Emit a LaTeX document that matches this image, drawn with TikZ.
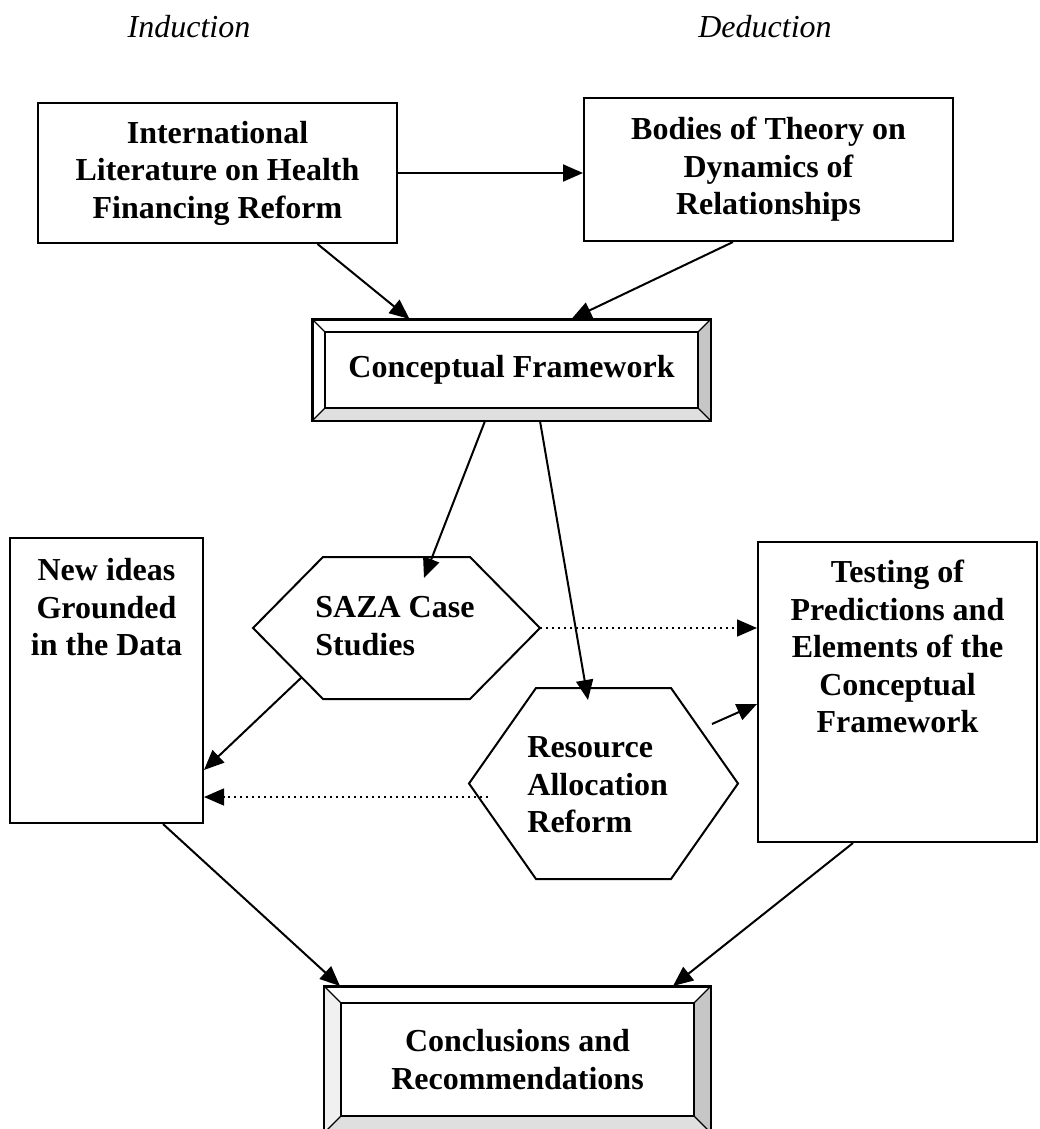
\documentclass[tikz,border=0pt]{standalone}
\usepackage{fontspec}
\setmainfont{Liberation Serif}
\usetikzlibrary{arrows.meta,positioning}

\newcommand\diagfont{\fontsize{16}{18.75}\selectfont}

\begin{document}
\begin{tikzpicture}[x=0.5pt, y=-0.5pt,
    plainbox/.style={draw, line width=1pt, align=center, inner sep=2pt, font=\bfseries\diagfont},
    boxtext/.style={align=center, inner sep=0pt, font=\bfseries\diagfont},
    hextext/.style={align=left, inner sep=0pt, font=\bfseries\diagfont},
    hexline/.style={line width=1pt, line join=miter},
    arr/.style={-{Triangle[length=10pt,width=8.5pt]}, line width=1pt},
    dotarr/.style={arr, dotted, line width=0.8pt},
    heading/.style={anchor=base, font=\itshape\diagfont}]
    \useasboundingbox (0,0) rectangle (1039,1129);

    % Headings
    \node[heading] (ind) at (189,38) {Induction};
    \node[heading] (ded) at (765,38) {Deduction};

    % Top boxes
    \node[plainbox, minimum width=179.5pt, minimum height=70pt] (lit) at (217.5,173)
        {International\\Literature on Health\\Financing Reform};
    \node[plainbox, minimum width=184.5pt, minimum height=71.5pt] (bodies) at (768.5,169.5)
        {Bodies of Theory on\\Dynamics of\\Relationships};

    % Bevelled boxes
    \node[plainbox, minimum width=198.5pt, minimum height=50pt] (cf) at (511.5,370)
        {Conceptual Framework};
    \node[plainbox, minimum width=192.5pt, minimum height=72.5pt] (concl) at (517.5,1059.5)
        {Conclusions and\\Recommendations};
    \fill[gray!12] (concl.north west) -- ++(8.5pt,-8.5pt) -- ([shift={(8.5pt,8.5pt)}]concl.south west) -- (concl.south west) -- cycle;
    \foreach \n/\b in {cf/6.5pt, concl/8.5pt} {
        \fill[gray!45] (\n.north east) -- ([shift={(-\b,-\b)}]\n.north east)
            -- ([shift={(-\b,\b)}]\n.south east) -- (\n.south east) -- cycle;
        \fill[gray!25] (\n.south west) -- ([shift={(\b,\b)}]\n.south west)
            -- ([shift={(-\b,\b)}]\n.south east) -- (\n.south east) -- cycle;
        \draw[line width=0.6pt] (\n.north west) -- ++(\b,-\b) (\n.north east) -- ++(-\b,-\b)
            (\n.south west) -- ++(\b,\b) (\n.south east) -- ++(-\b,\b);
        \draw[line width=1pt] ([shift={(\b,-\b)}]\n.north west) rectangle ([shift={(-\b,\b)}]\n.south east);
        \draw[line width=1pt] (\n.north west) rectangle (\n.south east);
    }

    % Side boxes
    \node[plainbox, minimum width=96.5pt, minimum height=142.5pt] (nid) at (106.5,680.5) {};
    \node[boxtext, below=10.5pt of nid.north] (nidtext) {New ideas\\Grounded\\in the Data};
    \node[plainbox, minimum width=139.5pt, minimum height=150pt] (test) at (897.5,692) {};
    \node[boxtext, below=9.5pt of test.north] (testtext)
        {Testing of\\Predictions and\\Elements of the\\Conceptual\\Framework};

    % Hexagons
    \coordinate (saza) at (396.5,628);
    \draw[hexline] (253,628) -- (323,557) -- (470,557) -- (540,628) coordinate (sazaE)
        -- (470,699) -- (323,699) -- cycle;
    \node[hextext, anchor=west] (sazatext) at (315,626) {SAZA Case\\Studies};
    \coordinate (rar) at (603.5,783.5);
    \draw[hexline] (469,783.5) -- (536,688) -- (671,688) -- (738,783.5)
        -- (671,879) -- (536,879) -- cycle;
    \node[hextext, anchor=west] (rartext) at (527,785) {Resource\\Allocation\\Reform};

    % Arrows
    \draw[arr] (lit.east) -- (lit.east -| bodies.west);
    \draw[arr] ([xshift=50pt]lit.south) -- ([xshift=-51pt]cf.north);
    \draw[arr] ([xshift=-17.75pt]bodies.south) -- ([xshift=30pt]cf.north);
    \draw[arr] ([xshift=-13.25pt]cf.south) -- ([shift={(13.75pt,25pt)}]saza);
    \draw[arr] ([xshift=14.25pt]cf.south) -- ([shift={(-7.75pt,41.75pt)}]rar);
    \draw[dotarr] (sazaE) -- (sazaE -| test.west);
    \draw[arr] ([shift={(54.25pt,29.75pt)}]rar) -- ([yshift=-6pt]test.west);
    \draw[arr] ([shift={(-47.25pt,-24.5pt)}]saza) -- ([yshift=-44.75pt]nid.east);
    \draw[dotarr] ([shift={(-57.75pt,-6.75pt)}]rar) -- ([yshift=-58.25pt]nid.east);
    \draw[arr] ([xshift=28.25pt]nid.south) -- ([xshift=-88.75pt]concl.north);
    \draw[arr] ([xshift=-22.25pt]test.south) -- ([xshift=77.75pt]concl.north);
\end{tikzpicture}
\end{document}
